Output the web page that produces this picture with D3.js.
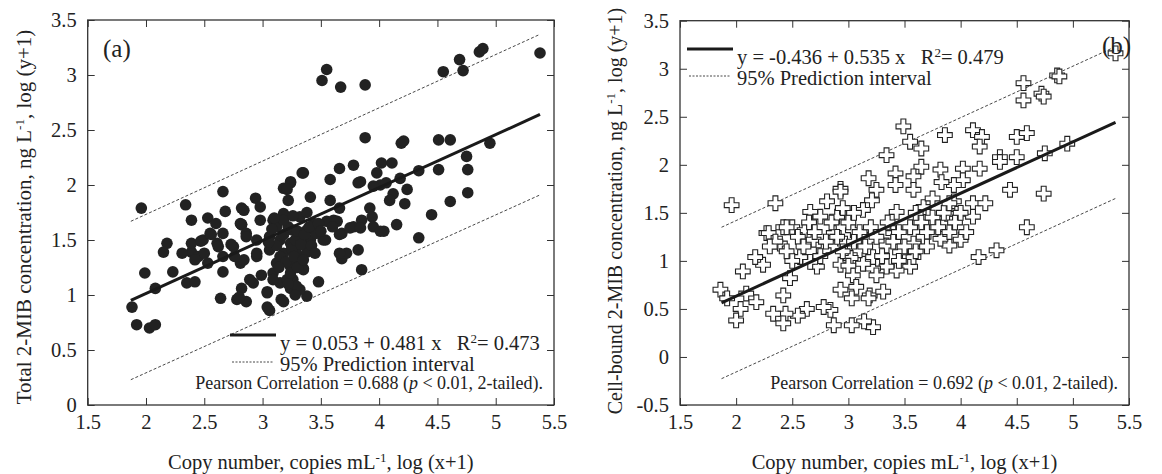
<!DOCTYPE html>
<html>
<head>
<meta charset="utf-8">
<script src="https://cdn.jsdelivr.net/npm/d3@7"></script>
<style>
  body { margin: 0; background: #fff; }
  text { font-family: "Liberation Serif", "Times New Roman", serif; fill: #222; white-space: pre; }
</style>
</head>
<body>
<svg id="chart" width="1162" height="474"></svg>
<script>
// Two scatter panels: total (a) and cell-bound (b) 2-MIB vs copy number

const xTicks = [1.5, 2, 2.5, 3, 3.5, 4, 4.5, 5, 5.5];
const yTicksA = [0, 0.5, 1, 1.5, 2, 2.5, 3, 3.5];
const yTicksB = [-0.5, 0, 0.5, 1, 1.5, 2, 2.5, 3, 3.5];

// panel (a): [log copy number, log total 2-MIB]
const pointsA = [
  [3.51,2.95],[3.55,3.05],[3.67,2.89],[3.88,2.91],[4.55,3.03],[4.69,3.14],[4.72,3.04],[4.86,3.21],[4.89,3.24],[5.38,3.2],
  [1.96,1.79],[2.34,1.82],[2.39,1.68],[2.66,1.94],[2.68,1.76],[2.53,1.70],[2.82,1.79],[2.94,1.88],[2.82,1.64],[2.98,1.68],
  [3.18,1.97],[3.24,2.03],[3.35,2.11],[3.41,1.89],[3.58,2.05],[3.66,2.15],[3.78,2.18],[3.84,2.03],[3.58,1.86],[3.66,1.79],
  [3.88,2.43],[4.19,2.38],[4.21,2.40],[4.51,2.41],[4.61,2.41],[4.95,2.38],[4.75,2.26],[4.76,2.14],[4.76,1.93],[4.61,1.85],
  [4.45,1.73],[4.51,2.14],[4.34,2.13],[4.02,2.2],[4.11,2.2],[3.98,2.11],[4.01,2.0],[3.95,1.99],[4.06,2.02],[4.18,2.06],
  [4.24,1.96],[4.12,1.92],[4.09,1.86],[4.22,1.83],[3.92,1.79],[3.94,1.71],[3.85,1.68],[3.95,1.62],[4.04,1.58],[4.15,1.64],
  [3.78,1.62],[3.68,1.56],[4.34,1.52],[3.61,1.68],[4.01,1.58],[3.82,1.41],[3.68,1.33],[3.72,1.38],[3.85,1.23],[3.54,1.5],
  [3.48,1.12],[3.38,0.99],[3.32,1.05],[3.24,1.06],[3.16,0.96],[3.06,0.86],[3.04,0.89],[3.04,1.03],[2.86,0.94],[2.78,0.96],
  [2.82,1.06],[2.64,0.97],[2.92,1.11],[2.99,1.18],[3.09,1.2],[3.15,1.11],[3.26,1.14],[3.35,1.24],[3.26,1.29],[2.66,1.21],
  [2.81,1.29],[2.95,1.35],[2.75,1.44],[2.66,1.35],[2.61,1.47],[2.49,1.5],[2.44,1.35],[2.39,1.39],[2.31,1.38],[2.35,1.11],
  [2.42,1.12],[2.23,1.21],[2.18,1.47],[2.15,1.39],[1.99,1.2],[2.08,1.06],[1.88,0.89],[1.92,0.73],[2.03,0.7],[2.08,0.73],
  [2.55,1.56],[2.82,1.64],[2.95,1.5],[2.86,1.56],[3.34,2.11],[3.24,2.02],[3.21,1.96],[3.22,1.86],[3.82,2.02],[2.84,1.77],
  [2.98,1.8],[3.09,1.68],[3.18,1.74],[3.32,1.71],[3.44,1.65],[3.55,1.67],[3.64,1.67],[3.66,1.55],[3.75,1.61],[3.84,1.61],
  [2.86,1.53],[2.95,1.38],[3.06,1.53],[3.15,1.5],[3.24,1.47],[3.32,1.53],[3.41,1.5],[3.52,1.5],[3.18,1.38],[3.29,1.38],
  [3.12,1.29],[3.24,1.26],[3.35,1.23],[3.66,1.38],[2.89,1.14],[3.04,1.02],[3.18,0.94],[2.84,1.32],[2.81,1.65],[3.12,1.62],
  [3.26,1.59],[3.38,1.59],[3.46,1.56],[3.06,1.41],[3.38,1.39],[3.09,1.14],[3.21,1.14],[3.29,1.08],[2.6,1.65],[2.66,1.56],
  [2.56,1.55],[2.39,1.47],[2.47,1.49],[2.45,1.35],[2.5,1.38],[2.62,1.44],[2.73,1.46],[2.76,1.35],[2.53,1.29],[2.42,1.32],
  [2.8,0.98],[3.12,1.45],[3.18,1.55],[3.22,1.62],[3.25,1.42],[3.28,1.5],[3.3,1.58],[3.33,1.46],[3.36,1.55],[3.4,1.62],
  [3.15,1.35],[3.2,1.3],[3.24,1.2],[3.27,1.35],[3.3,1.25],[3.35,1.32],[3.42,1.45],[3.45,1.38],[3.48,1.65],[3.5,1.58],
  [3.18,1.68],[3.26,1.72],[3.08,1.6],[3.05,1.48],[3.14,1.25],[3.22,1.1],[3.28,1.0],[3.1,1.7],[3.38,1.75],[3.6,1.62]
];

// panel (b): [log copy number, log cell-bound 2-MIB]
const pointsB = [
  [1.96,1.58],[2.35,1.6],[3.34,2.1],[3.49,2.4],[3.55,2.24],[3.65,2.17],[3.86,2.31],[4.11,2.36],[4.19,2.29],[4.17,2.19],
  [4.5,2.29],[4.59,2.33],[4.56,2.85],[4.56,2.67],[4.72,2.74],[4.74,2.71],[4.86,2.93],[4.88,2.92],[5.38,3.16],[4.95,2.22],
  [4.75,2.12],[4.74,1.7],[4.44,1.74],[4.35,2.08],[4.35,2.03],[4.5,2.08],[4.17,1.96],[4.02,1.96],[4.02,1.84],[3.94,1.79],
  [3.82,1.95],[3.83,1.82],[3.65,1.98],[3.58,1.88],[3.58,1.74],[3.42,1.91],[3.42,1.79],[3.18,1.86],[3.25,1.74],[3.21,1.63],
  [2.93,1.75],[2.93,1.72],[2.81,1.62],[2.99,1.49],[2.9,1.46],[2.66,1.51],[2.75,1.46],[3.13,1.53],[3.43,1.51],[3.67,1.56],
  [3.94,1.62],[4.11,1.6],[4.22,1.6],[4.11,1.46],[3.97,1.49],[3.88,1.49],[4.59,1.35],[2.27,1.29],[2.42,1.35],[2.5,1.35],
  [4.32,1.11],[4.16,1.04],[4.0,1.22],[3.9,1.16],[3.82,1.23],[3.67,1.25],[3.55,0.94],[3.58,1.04],[3.43,0.9],[3.34,0.94],
  [3.22,0.92],[3.13,0.97],[3.04,0.85],[3.07,0.73],[2.93,0.96],[2.93,0.7],[3.03,0.61],[3.19,0.64],[3.31,0.68],[3.18,0.61],
  [3.22,0.31],[3.14,0.37],[3.03,0.33],[2.87,0.33],[2.84,0.49],[2.78,0.52],[2.63,0.5],[2.55,0.43],[2.44,0.45],[2.33,0.45],
  [2.42,0.35],[2.42,0.64],[2.48,0.82],[2.72,0.94],[2.66,0.99],[2.57,1.04],[2.24,0.96],[2.17,1.04],[2.06,0.89],[2.09,0.66],
  [2.18,0.57],[1.86,0.7],[1.92,0.61],[2.04,0.5],[2.0,0.38],[2.29,1.29],[2.39,1.18],[2.45,1.35],[2.61,1.32],[2.69,1.22],
  [2.78,1.11],[2.87,1.29],[2.97,1.18],[3.04,1.32],[3.1,1.11],[3.19,1.22],[3.34,1.16],[3.4,1.29],[3.46,1.09],[3.58,1.18],
  [3.22,1.04],[3.02,1.03],[2.55,1.25],[2.6,1.15],[2.65,1.4],[2.7,1.3],[2.75,1.05],[2.8,1.2],[2.85,1.4],[2.9,1.25],
  [2.95,1.1],[3.0,1.4],[3.05,1.2],[3.1,1.3],[3.15,1.15],[3.2,1.35],[3.25,1.25],[3.3,1.05],[3.35,1.4],[3.4,1.2],
  [3.45,1.3],[3.5,1.15],[3.55,1.35],[3.6,1.1],[3.65,1.4],[3.7,1.3],[3.75,1.45],[3.8,1.35],[3.85,1.5],[3.9,1.3],
  [3.95,1.4],[4.0,1.5],[2.5,1.0],[2.45,1.1],[2.35,1.2],[2.3,1.15],[3.0,0.95],[3.25,0.85],[3.45,1.0],[3.7,1.15],
  [4.05,1.3],[3.9,1.6],[3.75,1.65],[3.6,1.5],[3.05,1.5],[2.95,1.55]
];

// fitted lines and 95% prediction bands, end points [x, y]
const fitA = [[1.87, 0.952], [5.38, 2.641]];
const upperA = [[1.87, 1.67], [5.38, 3.37]];
const lowerA = [[1.87, 0.23], [5.38, 1.91]];
const fitB = [[1.87, 0.564], [5.38, 2.442]];
const upperB = [[1.87, 1.35], [5.38, 3.23]];
const lowerB = [[1.87, -0.226], [5.38, 1.65]];

const svg = d3.select("#chart");

function drawPanel(p) {
  const x = d3.scaleLinear().domain([1.5, 5.5]).range([p.l, p.r]);
  const y = d3.scaleLinear().domain(p.yDomain).range([p.b, p.t]);
  const g = svg.append("g");
  const fmt = d => String(d);

  // axes, ticks pointing inward on all four sides
  const ax = g.append("g").attr("class", "axes");
  ax.append("g").attr("transform", `translate(0,${p.b})`)
    .call(d3.axisBottom(x).tickValues(xTicks).tickFormat(fmt).tickSizeInner(-7).tickSizeOuter(0).tickPadding(9));
  ax.append("g").attr("transform", `translate(0,${p.t})`)
    .call(d3.axisTop(x).tickValues(xTicks).tickFormat("").tickSizeInner(-7).tickSizeOuter(0));
  ax.append("g").attr("transform", `translate(${p.l},0)`)
    .call(d3.axisLeft(y).tickValues(p.yTicks).tickFormat(fmt).tickSizeInner(-7).tickSizeOuter(0).tickPadding(11));
  ax.append("g").attr("transform", `translate(${p.r},0)`)
    .call(d3.axisRight(y).tickValues(p.yTicks).tickFormat("").tickSizeInner(-7).tickSizeOuter(0));
  ax.selectAll(".domain").remove();
  ax.selectAll("line").attr("stroke", "#333").attr("stroke-width", 1);
  ax.selectAll("text").attr("font-size", 20.5).attr("font-family", "Liberation Serif").attr("fill", "#222");

  g.append("rect")
    .attr("x", p.l).attr("y", p.t)
    .attr("width", p.r - p.l).attr("height", p.b - p.t)
    .attr("fill", "none").attr("stroke", "#333").attr("stroke-width", 1.3);

  const line = d3.line().x(d => x(d[0])).y(d => y(d[1]));
  [p.upper, p.lower].forEach(seg => {
    g.append("path").attr("d", line(seg))
      .attr("fill", "none").attr("stroke", "#333").attr("stroke-width", 0.9)
      .attr("stroke-dasharray", "3,2");
  });

  // points
  if (p.marker == "circle") {
    g.append("g").selectAll("circle")
      .data(p.points).enter().append("circle")
      .attr("cx", d => x(d[0])).attr("cy", d => y(d[1]))
      .attr("r", 5.8).attr("fill", "#222");
  } else {
    const cross = d3.symbol().type(d3.symbolCross).size(120);
    g.append("g").selectAll("path")
      .data(p.points).enter().append("path")
      .attr("d", cross)
      .attr("transform", d => `translate(${x(d[0])},${y(d[1])})`)
      .attr("fill", "#fff").attr("stroke", "#222").attr("stroke-width", 1.1);
  }

  g.append("path").attr("d", line(p.fit))
    .attr("fill", "none").attr("stroke", "#1a1a1a").attr("stroke-width", 3);

  // legend
  const lg = g.append("g");
  lg.append("line").attr("x1", p.leg.x).attr("x2", p.leg.x + 46)
    .attr("y1", p.leg.y).attr("y2", p.leg.y)
    .attr("stroke", "#1a1a1a").attr("stroke-width", 3);
  const t1 = lg.append("text").attr("x", p.leg.x + 50).attr("y", p.leg.y + 15).attr("font-size", 20.5);
  t1.append("tspan").text(p.eq + "\u00a0\u00a0\u00a0R");
  t1.append("tspan").attr("baseline-shift", "super").attr("font-size", 13).text("2");
  t1.append("tspan").text("= " + p.r2);
  lg.append("line").attr("x1", p.leg.x + 2).attr("x2", p.leg.x + 44)
    .attr("y1", p.leg.y + 27).attr("y2", p.leg.y + 27)
    .attr("stroke", "#333").attr("stroke-width", 0.9).attr("stroke-dasharray", "2,1.5");
  lg.append("text").attr("x", p.leg.x + 50).attr("y", p.leg.y + 36)
    .attr("font-size", 20.5).text("95% Prediction interval");

  const pc = g.append("text").attr("x", p.r - 11).attr("y", 389)
    .attr("text-anchor", "end").attr("font-size", 18);
  pc.append("tspan").text(`Pearson Correlation = ${p.pearson} (`);
  pc.append("tspan").attr("font-style", "italic").text("p");
  pc.append("tspan").text(" < 0.01, 2-tailed).");

  g.append("text").attr("x", p.tag.x).attr("y", p.tag.y)
    .attr("font-size", 25).text(p.tag.text);

  // axis titles
  const xt = g.append("text").attr("x", (p.l + p.r) / 2).attr("y", 469)
    .attr("text-anchor", "middle").attr("font-size", 20.5);
  xt.append("tspan").text("Copy number, copies mL");
  xt.append("tspan").attr("baseline-shift", "super").attr("font-size", 13).text("-1");
  xt.append("tspan").text(", log (x+1)");

  const yt = g.append("text")
    .attr("transform", `translate(${p.yTitle.x},${p.yTitle.y}) rotate(-90)`)
    .attr("text-anchor", "middle").attr("font-size", p.yTitle.size);
  yt.append("tspan").text(p.yTitle.text + ", ng L");
  yt.append("tspan").attr("baseline-shift", "super").attr("font-size", 13).text("-1");
  yt.append("tspan").text(", log (y+1)");
}

drawPanel({
  l: 87.7, r: 554, t: 20, b: 405,
  yDomain: [0, 3.5], yTicks: yTicksA,
  points: pointsA, marker: "circle",
  fit: fitA, upper: upperA, lower: lowerA,
  leg: {x: 230, y: 335},
  eq: "y = 0.053 + 0.481 x", r2: "0.473", pearson: "0.688",
  tag: {x: 103, y: 57, text: "(a)"},
  yTitle: {text: "Total 2-MIB concentration", x: 31, y: 217, size: 21}
});

drawPanel({
  l: 680, r: 1129, t: 20.7, b: 405,
  yDomain: [-0.5, 3.5], yTicks: yTicksB,
  points: pointsB, marker: "cross",
  fit: fitB, upper: upperB, lower: lowerB,
  leg: {x: 687, y: 49},
  eq: "y = -0.436 + 0.535 x", r2: "0.479", pearson: "0.692",
  tag: {x: 1102, y: 54, text: "(b)"},
  yTitle: {text: "Cell-bound 2-MIB concentration", x: 622, y: 211, size: 20}
});
</script>
</body>
</html>
